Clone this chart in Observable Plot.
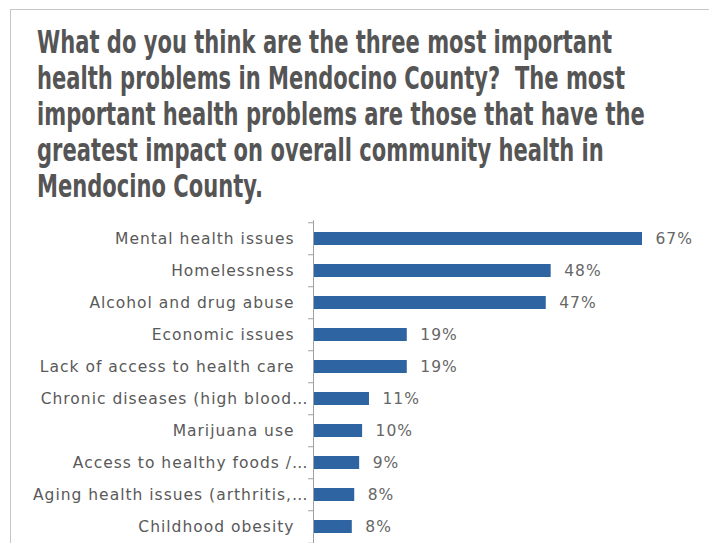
<!DOCTYPE html>
<html>
<head>
<meta charset="utf-8">
<script src="https://cdn.jsdelivr.net/npm/d3@7"></script>
<script src="https://cdn.jsdelivr.net/npm/@observablehq/plot@0.6"></script>
<style>
  html, body { margin: 0; padding: 0; background: #fff; width: 709px; height: 543px; overflow: hidden; }
  #frame { position: absolute; left: 10px; top: 9px; width: 760px; height: 600px; border: 1px solid #c6c6c6; box-sizing: border-box; }
  #title { position: absolute; left: 37px; top: 25px; font-family: "DejaVu Sans", sans-serif; font-weight: bold; font-size: 30px; line-height: 36px; color: #555555; }
  #title span { display: block; white-space: pre; transform-origin: 0 50%; width: max-content; }
  #chart { position: absolute; left: 0; top: 200px; }
</style>
</head>
<body>
<div id="frame"></div>
<div id="title"></div>
<div id="chart"></div>
<script>
const titleLines = [
  "What do you think are the three most important",
  "health problems in Mendocino County?  The most",
  "important health problems are those that have the",
  "greatest impact on overall community health in",
  "Mendocino County."
];
const categories = [
  "Mental health issues",
  "Homelessness",
  "Alcohol and drug abuse",
  "Economic issues",
  "Lack of access to health care",
  "Chronic diseases (high blood\u2026",
  "Marijuana use",
  "Access to healthy foods /\u2026",
  "Aging health issues (arthritis,\u2026",
  "Childhood obesity"
];
const values = [67, 48.4, 47.4, 19.1, 19.1, 11.4, 10, 9.4, 8.4, 7.9];
const valueLabels = ["67%", "48%", "47%", "19%", "19%", "11%", "10%", "9%", "8%", "8%"];

// title, condensed to the reference's first-line width
const titleEl = document.getElementById("title");
const spans = titleLines.map(t => {
  const s = document.createElement("span");
  s.textContent = t;
  titleEl.appendChild(s);
  return s;
});
const w0 = spans[0].getBoundingClientRect().width;
const sx = 575 / w0;
spans.forEach(s => { s.style.transform = `scale(${sx}, 1.04)`; });

const data = categories.map((c, i) => ({category: c, value: values[i], label: valueLabels[i]}));
const truncated = data.filter(d => d.category.endsWith("\u2026"));
const full = data.filter(d => !d.category.endsWith("\u2026"));

const step = 32.5;
const fontFamily = "DejaVu Sans, sans-serif";
const textStyle = {fontSize: 15.5, fill: "#595959"};

const plot = Plot.plot({
  width: 709,
  height: 360,
  marginTop: 20.3,
  marginBottom: 14.7,
  marginLeft: 313,
  marginRight: 67,
  style: {background: "transparent", fontFamily, overflow: "visible", letterSpacing: "1px"},
  x: {domain: [0, 67], axis: null},
  y: {domain: categories, paddingInner: 0.6, paddingOuter: 0.3, axis: null},
  marks: [
    Plot.barX(data, {y: "category", x: "value", fill: "#2e64a2"}),
    Plot.ruleX([0], {stroke: "#a0a0a0", strokeWidth: 1}),
    Plot.ruleY(categories, {y: d => d, x1: -1, x2: 0, dy: -step / 2, stroke: "#a0a0a0"}),
    Plot.ruleY([categories[categories.length - 1]], {y: d => d, x1: -1, x2: 0, dy: step / 2, stroke: "#a0a0a0"}),
    Plot.text(full, {y: "category", x: 0, text: "category", textAnchor: "end", dx: -19, ...textStyle}),
    Plot.text(truncated, {y: "category", x: 0, text: "category", textAnchor: "end", dx: -5, ...textStyle}),
    Plot.text(data, {y: "category", x: "value", text: "label", textAnchor: "start", dx: 13, fontSize: 15.5, fill: "#666666"})
  ]
});
document.getElementById("chart").appendChild(plot);
</script>
</body>
</html>
